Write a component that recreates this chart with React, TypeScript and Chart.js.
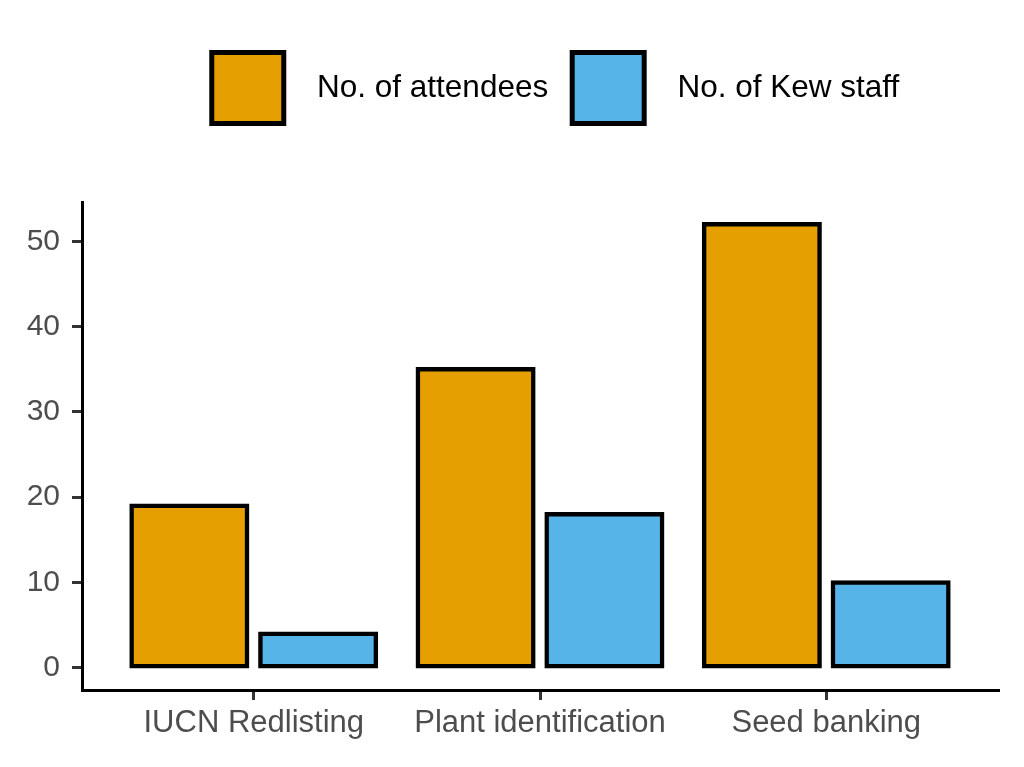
import React, { useEffect, useRef } from 'react';
import { Chart, registerables } from 'chart.js';

Chart.register(...registerables);

const categories = ['IUCN Redlisting', 'Plant identification', 'Seed banking'];
const attendees = [19, 35, 52];
const kewStaff = [4, 18, 10];
const seriesLabels = ['No. of attendees', 'No. of Kew staff'];
const seriesColors = ['#E69F00', '#56B4E9'];
const yTicks = [0, 10, 20, 30, 40, 50];
const yMin = -2.6;
const yMax = 54.6;
const xMin = 0.4;
const xMax = 3.6;

const FONT = '"Liberation Sans", Arial, Helvetica, sans-serif';

const legendSpacer = {
  id: 'legendSpacer',
  beforeInit(chart: any) {
    const lg = chart.legend;
    if (!lg) return;
    const orig = lg.fit;
    lg.fit = function () {
      orig.call(this);
      this.height += 68.5;
    };
  },
};

const legendShift = {
  id: 'legendShift',
  afterLayout(chart: any) {
    const lg = chart.legend;
    if (lg) {
      lg.left += 15.5;
      lg.right += 15.5;
    }
  },
};

export default function App() {
  const ref = useRef<HTMLCanvasElement | null>(null);

  useEffect(() => {
    document.body.style.margin = '0';
    if (!ref.current) return;
    const toPoints = (vals: number[]) => vals.map((v, i) => ({ x: i + 1, y: v }));
    const barStyle = {
      borderColor: '#000000',
      borderWidth: 4.5,
      borderSkipped: false,
      inflateAmount: 2.25,
      categoryPercentage: 0.9,
      barPercentage: 0.897,
    };
    const chart = new Chart(ref.current, {
      type: 'bar',
      data: {
        datasets: [
          {
            label: seriesLabels[0],
            data: toPoints(attendees),
            backgroundColor: seriesColors[0],
            ...barStyle,
          },
          {
            label: seriesLabels[1],
            data: toPoints(kewStaff),
            backgroundColor: seriesColors[1],
            ...barStyle,
          },
        ] as any,
      },
      plugins: [legendSpacer, legendShift],
      options: {
        animation: false,
        responsive: true,
        maintainAspectRatio: false,
        layout: { padding: { top: 28.5, right: 26, left: 0, bottom: 0 } },
        plugins: {
          legend: {
            position: 'top',
            fullSize: false,
            labels: {
              boxWidth: 72,
              boxHeight: 71,
              padding: 24,
              color: '#000000',
              font: { family: FONT, size: 31.5 },
              generateLabels: (c: any) =>
                (Chart.defaults.plugins.legend.labels as any)
                  .generateLabels(c)
                  .map((l: any) => ({ ...l, lineWidth: 5, text: '  ' + l.text })),
            },
          },
          tooltip: { enabled: false },
        },
        scales: {
          x: {
            type: 'linear',
            min: xMin,
            max: xMax,
            offset: false,
            afterBuildTicks: (s: any) => {
              s.ticks = categories.map((_, i) => ({ value: i + 1 }));
            },
            afterFit: (s: any) => {
              s.height = 77;
            },
            ticks: {
              callback: (v: any) => categories[Math.round(Number(v)) - 1] ?? '',
              color: '#4d4d4d',
              font: { family: FONT, size: 31 },
              padding: 5,
              maxRotation: 0,
              autoSkip: false,
            },
            grid: {
              display: true,
              drawOnChartArea: false,
              drawTicks: true,
              tickLength: 10,
              lineWidth: 3,
              tickWidth: 3,
              tickColor: '#333333',
              offset: false,
            },
            border: { display: true, color: '#000000', width: 3 },
          },
          y: {
            type: 'linear',
            min: yMin,
            max: yMax,
            afterBuildTicks: (s: any) => {
              s.ticks = yTicks.map((v) => ({ value: v }));
            },
            afterFit: (s: any) => {
              s.width = 82;
            },
            ticks: {
              color: '#4d4d4d',
              font: { family: FONT, size: 30 },
              padding: 12,
            },
            grid: {
              display: true,
              drawOnChartArea: false,
              drawTicks: true,
              tickLength: 10,
              lineWidth: 3,
              tickWidth: 3,
              tickColor: '#333333',
            },
            border: { display: true, color: '#000000', width: 3 },
          },
        },
      } as any,
    });
    return () => chart.destroy();
  }, []);

  return (
    <div style={{ width: '1024px', height: '767px', position: 'relative' }}>
      <canvas ref={ref} />
    </div>
  );
}
